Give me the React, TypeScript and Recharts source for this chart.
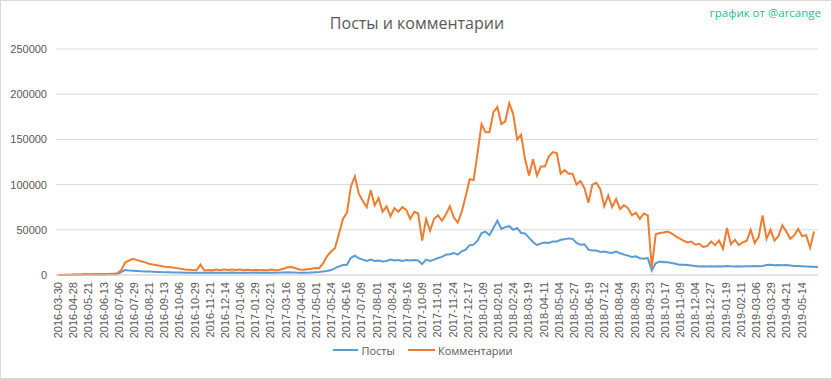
import React from 'react';
import { LineChart, Line, XAxis, YAxis, CartesianGrid, Legend } from 'recharts';

// category labels shown on the x axis (every 23rd day)
const TICK_LABELS = [
  '2016-03-30', '2016-04-28', '2016-05-21', '2016-06-13', '2016-07-06', '2016-07-29', '2016-08-21', '2016-09-13',
  '2016-10-06', '2016-10-29', '2016-11-21', '2016-12-14', '2017-01-06', '2017-01-29', '2017-02-21', '2017-03-16',
  '2017-04-08', '2017-05-01', '2017-05-24', '2017-06-16', '2017-07-09', '2017-08-01', '2017-08-24', '2017-09-16',
  '2017-10-09', '2017-11-01', '2017-11-24', '2017-12-17', '2018-01-09', '2018-02-01', '2018-02-24', '2018-03-19',
  '2018-04-11', '2018-05-04', '2018-05-27', '2018-06-19', '2018-07-12', '2018-08-04', '2018-08-29', '2018-09-23',
  '2018-10-17', '2018-11-09', '2018-12-04', '2018-12-27', '2019-01-19', '2019-02-11', '2019-03-06', '2019-03-29',
  '2019-04-21', '2019-05-14',
];
const LABEL_EVERY = 23;
const LAST_DAY = 1148;
const STEP = 6; // one sample every 6 days

const Y_TICKS = [0, 50000, 100000, 150000, 200000, 250000];

// Посты
const POSTS = [
  0, 0, 100, 100, 200, 200, 300, 300, 300, 300, 400, 400, 400, 500, 500, 800,
  3500, 5500, 5000, 4800, 4500, 4200, 4000, 3800, 3600, 3400, 3200, 3100, 3000, 2900, 2800,
  2700, 2500, 2600, 2400, 2500, 2600, 2400, 2500, 2700, 2500, 2600, 2400, 2500, 2700, 2600,
  2500, 2400, 2600, 2500, 2700, 2600, 2500, 2400, 2600, 2500, 2700, 2800, 3000, 2900, 2700,
  2600, 2500, 2600, 2800, 3000, 3200, 4000, 4500, 5500, 7700, 9500, 11000, 11400,
  19000, 21400, 18500, 17000, 15500, 17000, 15500, 16000, 15000, 15500, 17000, 16000, 16500,
  15500, 16500, 16000, 16500, 16000, 12000, 17000, 15500, 17000, 18800, 20000, 22500, 23000,
  24400, 22500, 26200, 28000, 33000, 33600, 38000, 46500, 48000, 44000, 52000, 60000, 51000,
  53000, 54000, 50000, 52000, 46500, 46000, 41000, 36500, 33000, 35000, 36000, 35500, 37000,
  37000, 39000, 39500, 40500, 40000, 35500, 33600, 34000, 28000, 27000, 27000, 25500, 26000,
  25000, 24400, 26000, 24000, 22500, 21400, 20000, 20600, 18500, 18000, 18800, 5000, 13000,
  15000, 14000, 14000, 13300, 12500, 11400, 11400, 11000, 10500, 10000, 9500, 9800, 9500,
  9700, 9400, 9800, 9500, 9900, 9600, 9400, 9800, 9500, 9700, 9600, 9900, 9700, 10000,
  11000, 11200, 10800, 11000, 10900, 11000, 10500, 10000, 10000, 9800, 9500, 9200, 9000, 8500,
];

// Комментарии
const COMMENTS = [
  0, 0, 200, 300, 500, 600, 800, 1200, 900, 1000, 1000, 1100, 1200, 1300, 1500, 2000,
  5500, 14000, 16000, 17800, 16500, 15200, 14000, 12500, 11500, 10800, 10000, 9200, 8800, 8200, 7600,
  6800, 6200, 5800, 5400, 5200, 11500, 5000, 5600, 5200, 6000, 5400, 6200, 5600, 6000, 5500,
  6200, 5400, 5800, 5200, 5800, 5300, 5600, 5200, 6000, 5300, 5800, 7000, 8600, 8800, 7500,
  6200, 5800, 6400, 7000, 7800, 7600, 13000, 21000, 26000, 30000, 46000, 62000, 69000,
  98000, 109000, 90000, 82000, 75000, 94000, 77000, 85000, 70000, 76000, 65000, 74000, 70000,
  75000, 72000, 62000, 70000, 68000, 38000, 62000, 49000, 62000, 66000, 60000, 67000, 76000,
  63500, 58000, 70000, 87000, 106000, 105000, 135000, 167000, 158000, 158000, 180000, 186000, 167000,
  170000, 190000, 178000, 150000, 155000, 128000, 110000, 128000, 110000, 120000, 120000, 131000, 136000,
  135000, 112000, 116000, 112000, 112000, 100000, 104000, 96000, 80000, 100000, 102000, 95000, 76000,
  88000, 75000, 84000, 73000, 77000, 74000, 66000, 69000, 62000, 68000, 66000, 8000, 45000,
  46500, 47000, 48000, 46000, 43000, 40500, 38000, 36000, 37000, 33500, 34500, 31000, 32000,
  37000, 33000, 38000, 29000, 52000, 34000, 39000, 33000, 36000, 38000, 50000, 35500, 42000,
  66000, 40000, 50000, 38000, 43000, 55000, 48000, 40000, 44000, 51000, 43000, 44000, 30000, 48000,
];

const BLUE = '#5b9bd5';
const ORANGE = '#ed7d31';
const GREY_TEXT = '#595959';
const FONT = '"Liberation Sans", Arial, sans-serif';

const data = POSTS.map((p, i) => ({ day: i * STEP, posts: p, comments: COMMENTS[i] }));

const DateTick = (props: any) => {
  const { x, y, payload } = props;
  return (
    <text
      x={x}
      y={y}
      transform={`rotate(-90, ${x}, ${y})`}
      textAnchor="end"
      dominantBaseline="central"
      fill={GREY_TEXT}
      fontSize={11}
      fontFamily={FONT}
    >
      {TICK_LABELS[Math.round(payload.value / LABEL_EVERY)]}
    </text>
  );
};

const LegendContent = () => (
  <div style={{ display: 'flex', justifyContent: 'center', alignItems: 'center', height: 30, fontFamily: '"Open Sans", sans-serif', fontSize: 11, color: GREY_TEXT, paddingLeft: 22 }}>
    <span style={{ display: 'inline-block', width: 25, height: 2, background: BLUE, marginRight: 3 }} />
    <span style={{ marginRight: 13 }}>Посты</span>
    <span style={{ display: 'inline-block', width: 27, height: 2, background: ORANGE, marginRight: 3 }} />
    <span>Комментарии</span>
  </div>
);

export default function App() {
  return (
    <div style={{ position: 'absolute', left: 0, top: 0, width: 832, height: 379, background: '#fff', boxSizing: 'border-box', border: '1px solid #d9d9d9' }}>
      <div style={{ position: 'absolute', top: 11, left: 0, width: 832, textAlign: 'center', fontFamily: '"Open Sans", sans-serif', fontSize: 16, color: GREY_TEXT }}>
        Посты и комментарии
      </div>
      <div style={{ position: 'absolute', top: 4, right: 10, fontFamily: '"Open Sans", sans-serif', fontSize: 11.5, color: '#19bf9a' }}>
        график от @arcange
      </div>
      <div style={{ position: 'absolute', left: -1, top: -1 }}>
        <LineChart width={832} height={379} data={data} margin={{ top: 49, right: 14, bottom: 14, left: 6 }}>
          <CartesianGrid vertical={false} stroke="#d9d9d9" strokeWidth={1} />
          <XAxis
            type="number"
            dataKey="day"
            domain={[-3, LAST_DAY]}
            ticks={TICK_LABELS.map((_, i) => i * LABEL_EVERY)}
            interval={0}
            tick={<DateTick />}
            tickLine={false}
            tickSize={0}
            tickMargin={7}
            axisLine={{ stroke: '#d9d9d9' }}
            height={60}
          />
          <YAxis
            domain={[0, 250000]}
            ticks={Y_TICKS}
            width={50}
            axisLine={false}
            tickLine={false}
            tickSize={0}
            tickMargin={9}
            tick={{ fill: GREY_TEXT, fontSize: 11, fontFamily: FONT }}
          />
          <Legend verticalAlign="bottom" height={30} content={<LegendContent />} />
          <Line type="linear" dataKey="posts" name="Посты" stroke={BLUE} strokeWidth={2} dot={false} isAnimationActive={false} />
          <Line type="linear" dataKey="comments" name="Комментарии" stroke={ORANGE} strokeWidth={2} dot={false} isAnimationActive={false} />
        </LineChart>
      </div>
    </div>
  );
}
